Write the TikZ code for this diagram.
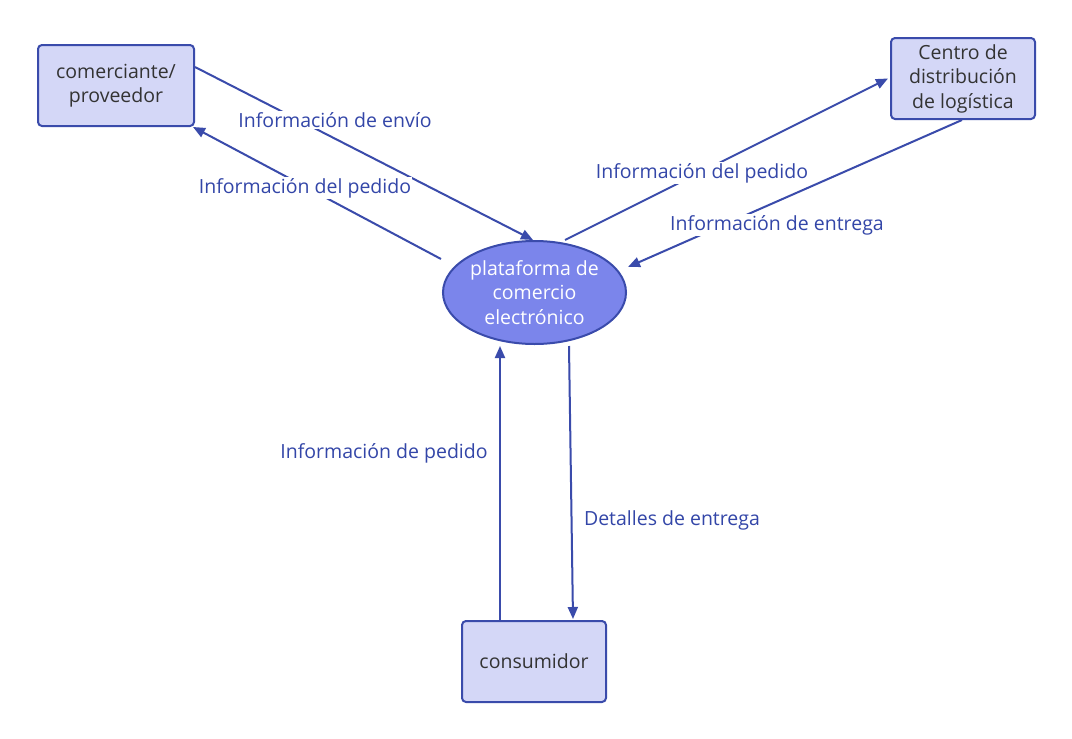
\documentclass[tikz,border=0pt]{standalone}
\usepackage{fontspec}
\setmainfont{Open Sans}
\usetikzlibrary{shapes.geometric,arrows.meta,calc}
\definecolor{boxfill}{HTML}{D4D7F7}
\definecolor{edgec}{HTML}{3A4BAB}
\definecolor{ellfill}{HTML}{7B85EB}
\definecolor{txt}{HTML}{333333}
\definecolor{labc}{HTML}{3346A8}
\begin{document}
\begin{tikzpicture}[x=1pt,y=-1pt,
  ent/.style={draw=edgec, line width=2pt, fill=boxfill, rounded corners=4pt, align=center,
    text=txt, font=\fontsize{19.5}{24.5}\selectfont, inner sep=0pt},
  proc/.style={ellipse, draw=edgec, line width=2pt, fill=ellfill, align=center, text=white,
    font=\fontsize{19.5}{24.5}\selectfont, inner sep=0pt, minimum width=183pt, minimum height=103pt},
  flow/.style={draw=edgec, line width=2pt, -{Triangle[length=12pt,width=10pt]}},
  lab/.style={fill=white, text=labc, font=\fontsize{19.5}{22}\selectfont, inner sep=1pt}]
\useasboundingbox[fill=white] (0,0) rectangle (1072,739);
\node[ent, minimum width=156pt, minimum height=81pt] (com) at (116,85.5) {comerciante/\\proveedor};
\node[ent, minimum width=144pt, minimum height=81pt] (cen) at (963,78.5) {Centro de\\distribución\\de logística};
\node[ent, minimum width=144pt, minimum height=81pt] (con) at (534,661.5) {consumidor};
\node[proc] (ell) at (534.5,292.5) {plataforma de\\comercio\\electrónico};

\draw[flow] ($(com.north east)+(0,23)$) -- ($(ell.north)+(-1.5,0)$)
  node[lab] at (335,120) {Información de envío};
\draw[flow] ($(ell.west)+(-1,-33.5)$) -- ($(com.south east)+(-2,0)$)
  node[lab] at (305,188) {Información del pedido};
\draw[flow] ($(ell.north)+(30.5,0)$) -- ($(cen.west)+(-2,0)$)
  node[lab] at (702,173) {Información del pedido};
\draw[flow] ($(cen.south)+(-1,0)$) -- ($(ell.east)+(1,-25.5)$)
  node[lab] at (777,225) {Información de entrega};
\draw[flow] ($(con.north)+(-34,0)$) -- ($(ell.south)+(-34.5,1)$)
  node[lab] at (384,453) {Información de pedido};
\draw[flow] ($(ell.south)+(34.5,1)$) -- ($(con.north)+(39,-1)$)
  node[lab] at (672,520) {Detalles de entrega};
\end{tikzpicture}
\end{document}
